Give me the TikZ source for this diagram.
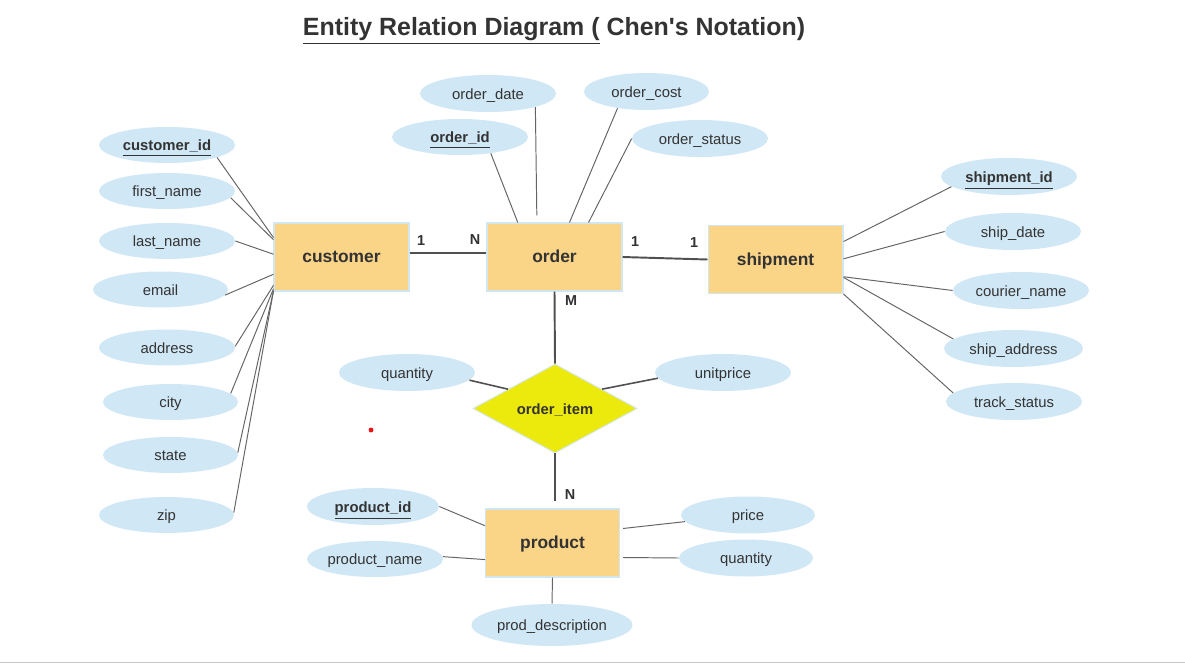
\documentclass[tikz,border=0pt]{standalone}
\usepackage{fontspec}
\setmainfont{Liberation Sans}[Ligatures=TeXOff]
\usetikzlibrary{shapes.geometric,calc}
\definecolor{entfill}{RGB}{250,212,135}
\definecolor{entdraw}{RGB}{210,230,240}
\definecolor{attfill}{RGB}{208,231,245}
\definecolor{relfill}{RGB}{236,234,12}
\definecolor{txt}{RGB}{51,51,51}
\definecolor{attline}{RGB}{100,100,100}
\definecolor{relline}{RGB}{80,80,80}
\definecolor{rulegray}{RGB}{200,200,200}
\definecolor{dotred}{RGB}{230,20,20}
\begin{document}
\begin{tikzpicture}[x=0.02cm,y=-0.02cm,
 every node/.style={text height=0.84em, text depth=0.16em},
 entity/.style={rectangle, fill=entfill, draw=entdraw, line width=0.6pt, minimum width=2.7cm, minimum height=1.36cm, inner sep=0pt, text=txt, font=\fontsize{9.9}{11}\selectfont\bfseries},
 attr/.style={ellipse, fill=attfill, draw=none, minimum width=2.72cm, minimum height=0.72cm, inner sep=0pt, text=txt, font=\fontsize{8.45}{10}\selectfont},
 keyattr/.style={attr, font=\fontsize{8.45}{10}\selectfont\bfseries},
 rel/.style={diamond, fill=relfill, draw=entdraw, line width=0.5pt, minimum width=3.28cm, minimum height=1.78cm, inner sep=0pt, aspect=1.84, text=txt, font=\fontsize{8.4}{10}\selectfont\bfseries},
 aline/.style={draw=attline, line width=0.55pt},
 rline/.style={draw=relline, line width=1.1pt},
 card/.style={text=txt, font=\fontsize{8.2}{10}\selectfont\bfseries, inner sep=0pt},
]
\useasboundingbox[fill=white] (0,0) rectangle (1185,665);

% title
\node[font=\fontsize{14.2}{17}\selectfont\bfseries, text=txt, inner sep=0pt] (title) at (554,30) {\underline{Entity Relation Diagram (} Chen's Notation)};

% entities and relationship
\node[entity] (cust) at (341.5,257) {customer};
\node[entity] (ord) at (554.5,257) {order};
\node[entity] (shp) at (775.5,259.5) {shipment};
\node[entity, minimum width=2.68cm] (prod) at (552.5,543) {product};
\node[rel] (oi) at (555,408.5) {order\_item};

% customer attributes
\node[keyattr] (cid) at (167,145) {\underline{customer\_id}};
\node[attr] (fn) at (167,191) {first\_name};
\node[attr] (ln) at (167,241) {last\_name};
\node[attr, minimum width=2.7cm] (em) at (160.5,289.5) {email};
\node[attr] (addr) at (167,347.5) {address};
\node[attr, minimum width=2.7cm] (city) at (170.5,402) {city};
\node[attr, minimum width=2.7cm] (st) at (170.5,455) {state};
\node[attr, minimum width=2.7cm] (zip) at (166.5,515) {zip};

% order attributes
\node[attr, minimum height=0.74cm] (od) at (488,93.5) {order\_date};
\node[attr, minimum width=2.5cm, minimum height=0.74cm] (oc) at (646.5,91.5) {order\_cost};
\node[keyattr] (oid) at (460,137) {\underline{order\_id}};
\node[attr, minimum height=0.74cm] (ost) at (700,138.5) {order\_status};

% shipment attributes
\node[keyattr, minimum height=0.74cm] (sid) at (1009,176.5) {\underline{shipment\_id}};
\node[attr, minimum height=0.74cm] (sd) at (1013,231.5) {ship\_date};
\node[attr, minimum height=0.74cm] (cn) at (1021,290.5) {courier\_name};
\node[attr, minimum width=2.78cm, minimum height=0.74cm] (sa) at (1013.5,348.5) {ship\_address};
\node[attr, minimum height=0.74cm] (ts) at (1014,401.5) {track\_status};

% relationship attributes
\node[attr, minimum height=0.74cm] (q1) at (407,372.5) {quantity};
\node[attr, minimum height=0.74cm] (up) at (723,372.5) {unitprice};

% product attributes
\node[keyattr, minimum width=2.64cm, minimum height=0.74cm] (pid) at (373,506.5) {\underline{product\_id}};
\node[attr] (pn) at (375,559) {product\_name};
\node[attr, minimum width=2.68cm, minimum height=0.74cm] (pr) at (748,515) {price};
\node[attr, minimum width=2.68cm, minimum height=0.74cm] (qt) at (746,558) {quantity};
\node[attr, minimum width=3.22cm, minimum height=0.84cm] (pd) at (552,625) {prod\_description};

% customer connectors
\draw[aline] (cid.-14) -- ($(cust.north west)!.22!(cust.south west)$);
\draw[aline] (fn.-6) -- ($(cust.north west)!.25!(cust.south west)$);
\draw[aline] (ln.0) -- ($(cust.north west)!.46!(cust.south west)$);
\draw[aline] (em.-5) -- ($(cust.north west)!.75!(cust.south west)$);
\draw[aline] (addr.1) -- ($(cust.north west)!.91!(cust.south west)$);
\draw[aline] (city.8) -- ($(cust.north west)!.96!(cust.south west)$);
\draw[aline] (st.2) -- ($(cust.north west)!.99!(cust.south west)$);
\draw[aline] (zip.2) -- ($(cust.north west)!.99!(cust.south west)$);

% order connectors
\draw[aline] (oid.-28) -- ($(ord.north west)!.23!(ord.north east)$);
\draw[aline] (od.-16) -- ($(ord.north west)!.37!(ord.north east)+(0,-7)$);
\draw[aline] (oc.-150) -- ($(ord.north west)!.61!(ord.north east)$);
\draw[aline] (ost.west) -- ($(ord.north west)!.75!(ord.north east)$);

% shipment connectors
\draw[aline] (sid.190) -- ($(shp.north east)!.24!(shp.south east)$);
\draw[aline] (sd.west) -- ($(shp.north east)!.49!(shp.south east)$);
\draw[aline] (cn.west) -- ($(shp.north east)!.75!(shp.south east)$);
\draw[aline] (sa.171) -- ($(shp.north east)!.76!(shp.south east)$);
\draw[aline] (ts.172) -- (shp.south east);

% relationship attribute connectors
\draw[rline, line width=0.9pt] (q1.-7) -- ($(oi.west)!.43!(oi.north)$);
\draw[rline, line width=0.9pt] (up.185) -- ($(oi.east)!.43!(oi.north)$);

% product connectors
\draw[aline] (pid.0) -- ($(prod.north west)!.25!(prod.south west)$);
\draw[aline] (pn.2) -- ($(prod.north west)!.74!(prod.south west)$);
\draw[aline] (pr.186) -- ($(prod.north east)!.29!(prod.south east)+(3,0)$);
\draw[aline] (qt.west) -- ($(prod.north east)!.71!(prod.south east)+(3,0)$);
\draw[aline] (pd.north) -- (prod.south);

% relationship connectors
\coordinate (c1) at ($(cust.north east)!.44!(cust.south east)$);
\draw[rline] (c1) -- (c1 -| ord.west);
\draw[rline] (ord.east) -- (shp.west);
\draw[rline] (ord.south) -- (oi.north);
\draw[rline, shorten >=4pt] (oi.south) -- (oi.south |- prod.north);

% cardinalities
\node[card] (k1) at (421,240) {1};
\node[card] (k2) at (475,239) {N};
\node[card] (k3) at (635,241) {1};
\node[card] (k4) at (694,242) {1};
\node[card] (k5) at (571,300) {M};
\node[card] (k6) at (570,494) {N};

% stray red dot and bottom rule
\fill[dotred] (371,430) circle[radius=1.4pt];
\draw[draw=rulegray, line width=0.9pt] (0,662.5) -- (1185,662.5);
\end{tikzpicture}
\end{document}
